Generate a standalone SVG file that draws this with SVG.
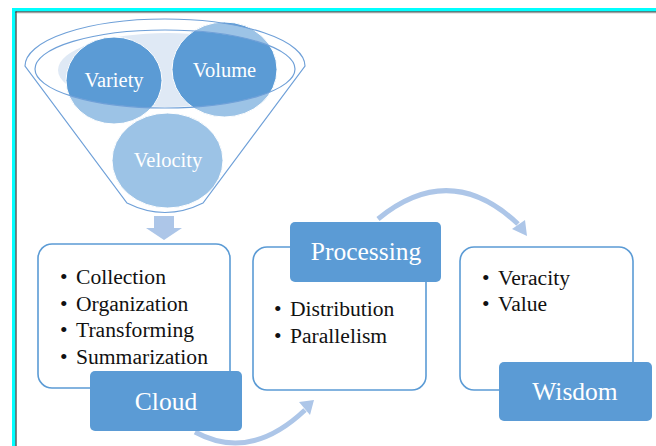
<svg xmlns="http://www.w3.org/2000/svg" width="656" height="446" viewBox="0 0 656 446" font-family="Liberation Serif, DejaVu Serif, serif">
  <defs>
    <style>
      .cont { fill: #ffffff; stroke: #5b9bd5; stroke-width: 1.6; }
      .lbl { fill: #5b9bd5; }
      .ltxt { font-size: 25.5px; fill: #ffffff; text-anchor: middle; }
      .ctxt { font-size: 20.5px; fill: #ffffff; text-anchor: middle; }
      .btxt { font-size: 21.6px; fill: #111111; }
      .arc { fill: none; stroke: #adc6e8; stroke-width: 5; }
      .head { fill: #adc6e8; }
      .circ { fill: #5b9bd5; stroke: #ffffff; stroke-width: 1; }
      .fline { fill: none; stroke: #6fa0d8; stroke-width: 1.2; }
    </style>
  </defs>
  <rect x="0" y="0" width="656" height="446" fill="#ffffff"/>
  <!-- frame -->
  <rect x="12" y="8" width="644" height="3.5" fill="#00ffff"/>
  <rect x="12" y="8" width="3.5" height="438" fill="#00ffff"/>
  <rect x="15.5" y="11.5" width="640.5" height="1" fill="#111111"/>
  <rect x="15.5" y="11.5" width="1" height="434.5" fill="#111111"/>
  <rect x="16.5" y="12.5" width="639.5" height="0.8" fill="#bbbbbb"/>

  <!-- funnel node -->
  <g id="funnel">
    <ellipse cx="167" cy="70" rx="109" ry="37" fill="#dfe9f5"/>
    <g id="variety">
      <ellipse class="circ" cx="114" cy="80.5" rx="48" ry="43.5"/>
    </g>
    <g id="volume">
      <ellipse class="circ" cx="224.5" cy="69.5" rx="52.5" ry="47.5"/>
    </g>
    <g id="velocity">
      <ellipse class="circ" cx="167.5" cy="160.5" rx="55.5" ry="47.5"/>
    </g>
    <path d="M25,66 A140,47 0 0 1 305,66 L203,203 Q165,222 127,203 Z M35,69 A130,39 0 0 0 295,69 A130,39 0 0 0 35,69 Z" fill="#ffffff" fill-opacity="0.4" fill-rule="evenodd"/>
    <path class="fline" d="M25,66 A140,47 0 0 1 305,66 L203,203 Q165,222 127,203 Z"/>
    <ellipse class="fline" cx="165" cy="69" rx="130" ry="39"/>
    <text class="ctxt" x="114" y="87">Variety</text>
    <text class="ctxt" x="224.5" y="77">Volume</text>
    <text class="ctxt" x="168" y="167">Velocity</text>
  </g>

  <!-- connectors -->
  <g id="connectors">
    <polygon class="head" points="154,216 174,216 174,228 182,228 164,240 146,228 154,228"/>
    <path class="arc" d="M195,432 Q250,462 305,410"/>
    <polygon class="head" points="299,402 314,400 310,415"/>
    <path class="arc" d="M378,219 Q450,160 518,224"/>
    <polygon class="head" points="512,229 527,236 525,220"/>
  </g>

  <!-- Cloud node -->
  <g id="cloud">
    <rect class="cont" x="38" y="244" width="192" height="144" rx="14"/>
    <text class="btxt" x="60" y="284">•</text>
    <text class="btxt" x="76" y="284">Collection</text>
    <text class="btxt" x="60" y="310.5">•</text>
    <text class="btxt" x="76" y="310.5">Organization</text>
    <text class="btxt" x="60" y="337">•</text>
    <text class="btxt" x="76" y="337">Transforming</text>
    <text class="btxt" x="60" y="363.5">•</text>
    <text class="btxt" x="76" y="363.5">Summarization</text>
    <rect class="lbl" x="90" y="371" width="152" height="60" rx="5"/>
    <text class="ltxt" x="166" y="410">Cloud</text>
  </g>

  <!-- Processing node -->
  <g id="processing">
    <rect class="cont" x="253" y="247" width="173" height="143" rx="14"/>
    <rect class="lbl" x="290" y="222" width="151" height="60" rx="5"/>
    <text class="ltxt" x="366" y="260">Processing</text>
    <text class="btxt" x="274" y="316">•</text>
    <text class="btxt" x="290" y="316">Distribution</text>
    <text class="btxt" x="274" y="343">•</text>
    <text class="btxt" x="290" y="343">Parallelism</text>
  </g>

  <!-- Wisdom node -->
  <g id="wisdom">
    <rect class="cont" x="460" y="247" width="173" height="143" rx="14"/>
    <text class="btxt" x="482" y="285">•</text>
    <text class="btxt" x="498" y="285">Veracity</text>
    <text class="btxt" x="482" y="311">•</text>
    <text class="btxt" x="498" y="311">Value</text>
    <rect class="lbl" x="499" y="362" width="153" height="59" rx="5"/>
    <text class="ltxt" x="575" y="400">Wisdom</text>
  </g>
</svg>
